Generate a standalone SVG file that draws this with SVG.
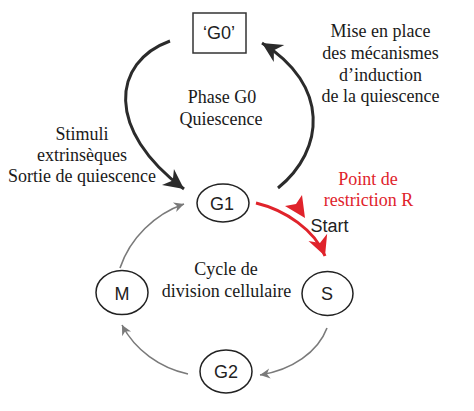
<svg xmlns="http://www.w3.org/2000/svg" width="474" height="411" viewBox="0 0 474 411">
<defs>
<style>
.serif{font-family:"Liberation Serif","Times New Roman",serif;font-size:18px;fill:#1a1a1a;text-anchor:middle}
.red{fill:#e0232b}
.sans{font-family:"Liberation Sans",Arial,sans-serif;font-size:18px;fill:#222;text-anchor:middle}
.node{fill:#fff;stroke:#222;stroke-width:1.5}
.big{fill:none;stroke:#2b2b2b;stroke-width:3}
.thin{fill:none;stroke:#7a7a7a;stroke-width:1.6}
.redc{fill:none;stroke:#e0232b;stroke-width:3}
</style>
<marker id="ab" markerUnits="userSpaceOnUse" markerWidth="24" markerHeight="24" viewBox="-20 -12 24 24" refX="0" refY="0" orient="auto" overflow="visible">
<path d="M0,0 L-20,-10 L-14,0 L-20,10 Z" fill="#2b2b2b"/>
</marker>
<marker id="ar" markerUnits="userSpaceOnUse" markerWidth="24" markerHeight="24" viewBox="-20 -12 24 24" refX="0" refY="0" orient="auto" overflow="visible">
<path d="M0,0 L-20,-10 L-14,0 L-20,10 Z" fill="#e0232b"/>
</marker>
<marker id="ag" markerUnits="userSpaceOnUse" markerWidth="14" markerHeight="14" viewBox="-11 -7 14 14" refX="0" refY="0" orient="auto" overflow="visible">
<path d="M0,0 L-10,-5 L-7,0 L-10,5 Z" fill="#7a7a7a"/>
</marker>
</defs>
<rect width="474" height="411" fill="#fff"/>
<g id="connectors">
<path class="big" d="M170,41 C112,62 105,130 184,189" marker-end="url(#ab)"/>
<path class="big" d="M278,188 C325,150 330,85 262,43" marker-end="url(#ab)"/>
<path class="redc" d="M256,203 C285,210 315,230 325,256" marker-end="url(#ar)"/>
<path d="M305,218 L285,206 L296,204 L302,195 Z" fill="#e0232b"/>
<path class="thin" d="M120,268 C130,238 155,214 184,204" marker-end="url(#ag)"/>
<path class="thin" d="M327,328 C318,352 292,370 260,375" marker-end="url(#ag)"/>
<path class="thin" d="M188,374 C160,368 135,350 122,325" marker-end="url(#ag)"/>
</g>
<g id="G0">
<rect x="193" y="13" width="53" height="40" fill="#fff" stroke="#333" stroke-width="1.5"/>
<text class="sans" x="219" y="39">‘G0’</text>
</g>
<g id="G1">
<ellipse class="node" cx="223" cy="203" rx="26" ry="19"/>
<text class="sans" x="222" y="210">G1</text>
</g>
<g id="M">
<ellipse class="node" cx="122" cy="292.5" rx="26" ry="22"/>
<text class="sans" x="122" y="300">M</text>
</g>
<g id="S">
<ellipse class="node" cx="327.5" cy="293.5" rx="25.5" ry="22"/>
<text class="sans" x="327" y="300">S</text>
</g>
<g id="G2">
<ellipse class="node" cx="226" cy="371.5" rx="26" ry="21.5"/>
<text class="sans" x="226" y="378">G2</text>
</g>
<g id="labels">
<text class="serif" x="222" y="103">Phase G0</text>
<text class="serif" x="221" y="125">Quiescence</text>
<text class="serif" x="82" y="139.5">Stimuli</text>
<text class="serif" x="82" y="160.5">extrinsèques</text>
<text class="serif" x="82" y="181.5">Sortie de quiescence</text>
<text class="serif" x="380.5" y="37">Mise en place</text>
<text class="serif" x="380.5" y="59">des mécanismes</text>
<text class="serif" x="380.5" y="80.5">d’induction</text>
<text class="serif" x="380.5" y="102">de la quiescence</text>
<text class="serif red" x="368" y="185">Point de</text>
<text class="serif red" x="368.5" y="205.5">restriction R</text>
<text class="sans" x="329.5" y="232">Start</text>
<text class="serif" x="226" y="275">Cycle de</text>
<text class="serif" x="226.5" y="297">division cellulaire</text>
</g>
</svg>
